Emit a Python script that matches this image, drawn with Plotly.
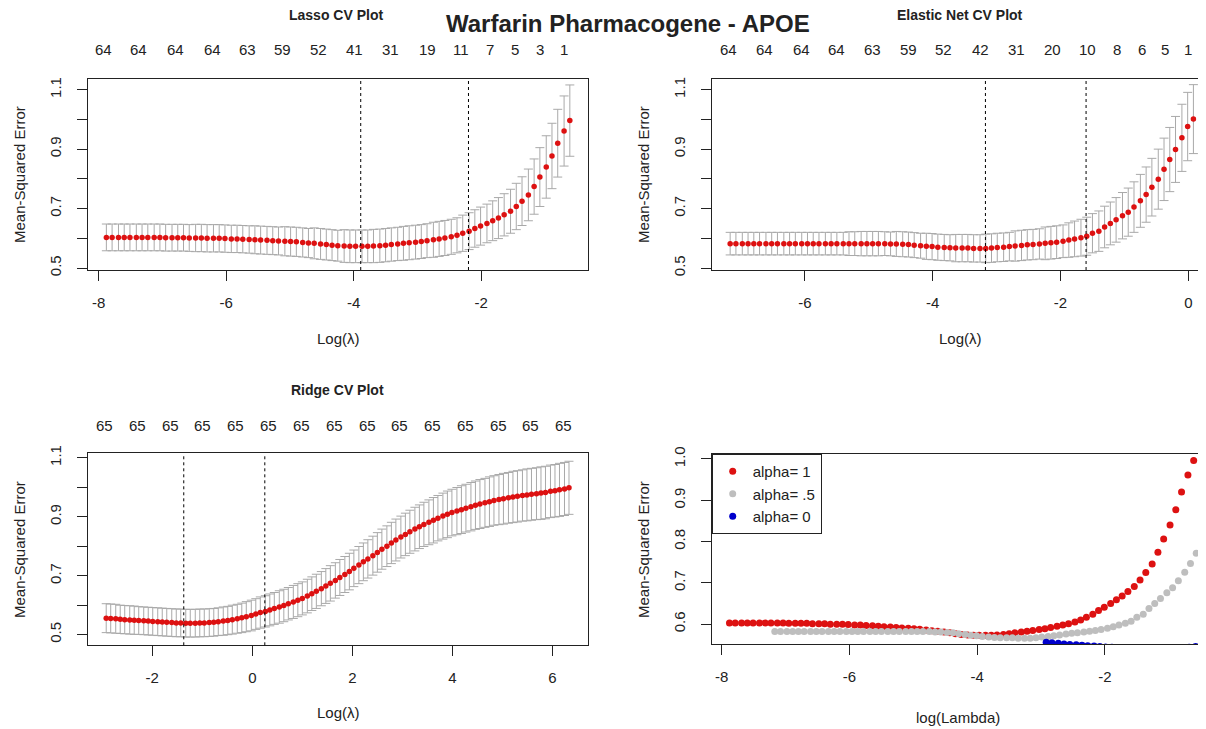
import plotly.graph_objects as go

# window is 1206x729; the page body has an 8px margin, so the figure is 8px smaller
PAGE_W, PAGE_H = 1206, 729
OFF = 8
W, H = PAGE_W - OFF, PAGE_H - OFF

# ---------------- data ----------------
lasso_loglam = [-7.88, -7.79, -7.69, -7.60, -7.51, -7.41, -7.32, -7.23, -7.13, -7.04,
                -6.95, -6.85, -6.76, -6.67, -6.58, -6.48, -6.39, -6.30, -6.20, -6.11,
                -6.02, -5.92, -5.83, -5.74, -5.64, -5.55, -5.46, -5.36, -5.27, -5.18,
                -5.08, -4.99, -4.90, -4.80, -4.71, -4.62, -4.52, -4.43, -4.34, -4.25,
                -4.15, -4.06, -3.97, -3.87, -3.78, -3.69, -3.59, -3.50, -3.41, -3.31,
                -3.22, -3.13, -3.03, -2.94, -2.85, -2.75, -2.66, -2.57, -2.47, -2.38,
                -2.29, -2.19, -2.10, -2.01, -1.91, -1.82, -1.73, -1.64, -1.54, -1.45,
                -1.36, -1.26, -1.17, -1.08, -0.98, -0.89, -0.80, -0.70, -0.61]
lasso_cvm = [0.603, 0.603, 0.603, 0.603, 0.603, 0.603, 0.603, 0.603, 0.603, 0.603,
             0.602, 0.602, 0.602, 0.602, 0.601, 0.601, 0.601, 0.600, 0.600, 0.600,
             0.599, 0.598, 0.598, 0.597, 0.596, 0.595, 0.594, 0.593, 0.592, 0.591,
             0.590, 0.589, 0.588, 0.586, 0.584, 0.583, 0.581, 0.579, 0.577, 0.575,
             0.574, 0.573, 0.573, 0.573, 0.573, 0.574, 0.575, 0.577, 0.579, 0.581,
             0.583, 0.585, 0.587, 0.589, 0.592, 0.595, 0.598, 0.601, 0.605, 0.610,
             0.617, 0.624, 0.633, 0.641, 0.650, 0.659, 0.668, 0.679, 0.691, 0.707,
             0.725, 0.746, 0.774, 0.806, 0.840, 0.877, 0.920, 0.961, 0.996]
lasso_cvsd = [0.045, 0.045, 0.045, 0.045, 0.045, 0.045, 0.045, 0.045, 0.045, 0.045,
              0.045, 0.045, 0.045, 0.045, 0.045, 0.046, 0.046, 0.046, 0.046, 0.046,
              0.046, 0.046, 0.046, 0.046, 0.046, 0.047, 0.047, 0.047, 0.047, 0.047,
              0.049, 0.049, 0.049, 0.049, 0.049, 0.052, 0.052, 0.052, 0.052, 0.052,
              0.055, 0.055, 0.055, 0.055, 0.055, 0.056, 0.056, 0.056, 0.056, 0.056,
              0.057, 0.057, 0.057, 0.057, 0.057, 0.059, 0.059, 0.059, 0.059, 0.059,
              0.061, 0.062, 0.063, 0.064, 0.065, 0.067, 0.069, 0.071, 0.074, 0.078,
              0.082, 0.087, 0.093, 0.099, 0.105, 0.110, 0.114, 0.118, 0.120]
lasso_vlines = [-3.89, -2.20]
lasso_count_pos = [-7.92, -7.37, -6.79, -6.22, -5.66, -5.11, -4.55, -3.98, -3.43, -2.85,
                   -2.32, -1.86, -1.47, -1.08, -0.70]
lasso_count_lab = ["64", "64", "64", "64", "63", "59", "52", "41", "31", "19",
                   "11", "7", "5", "3", "1"]

enet_loglam = [-7.17, -7.08, -6.98, -6.89, -6.80, -6.71, -6.61, -6.52, -6.43, -6.33,
               -6.24, -6.15, -6.05, -5.96, -5.87, -5.78, -5.68, -5.59, -5.50, -5.40,
               -5.31, -5.22, -5.12, -5.03, -4.94, -4.85, -4.75, -4.66, -4.57, -4.47,
               -4.38, -4.29, -4.19, -4.10, -4.01, -3.92, -3.82, -3.73, -3.64, -3.54,
               -3.45, -3.36, -3.26, -3.17, -3.08, -2.99, -2.89, -2.80, -2.71, -2.61,
               -2.52, -2.43, -2.33, -2.24, -2.15, -2.06, -1.96, -1.87, -1.78, -1.68,
               -1.59, -1.50, -1.40, -1.31, -1.22, -1.13, -1.03, -0.94, -0.85, -0.75,
               -0.66, -0.57, -0.47, -0.38, -0.29, -0.20, -0.10, -0.01, 0.08]
enet_cvm = [0.582, 0.582, 0.582, 0.582, 0.582, 0.582, 0.582, 0.582, 0.582, 0.582,
            0.582, 0.582, 0.582, 0.582, 0.582, 0.582, 0.582, 0.582, 0.582, 0.582,
            0.582, 0.582, 0.582, 0.582, 0.582, 0.582, 0.582, 0.581, 0.581, 0.580,
            0.579, 0.577, 0.575, 0.573, 0.572, 0.570, 0.569, 0.568, 0.567, 0.567,
            0.567, 0.566, 0.566, 0.566, 0.567, 0.569, 0.570, 0.572, 0.574, 0.576,
            0.578, 0.579, 0.581, 0.583, 0.585, 0.587, 0.590, 0.594, 0.598, 0.602,
            0.607, 0.617, 0.624, 0.638, 0.650, 0.662, 0.676, 0.688, 0.705, 0.726,
            0.747, 0.772, 0.799, 0.832, 0.865, 0.899, 0.938, 0.976, 1.001]
enet_cvsd = [0.038, 0.038, 0.038, 0.038, 0.038, 0.038, 0.038, 0.038, 0.038, 0.038,
             0.038, 0.038, 0.038, 0.038, 0.038, 0.038, 0.038, 0.038, 0.038, 0.038,
             0.040, 0.040, 0.041, 0.041, 0.041, 0.041, 0.040, 0.040, 0.042, 0.042,
             0.042, 0.042, 0.042, 0.044, 0.044, 0.044, 0.044, 0.044, 0.046, 0.046,
             0.046, 0.046, 0.046, 0.048, 0.048, 0.048, 0.048, 0.048, 0.051, 0.051,
             0.051, 0.051, 0.051, 0.055, 0.055, 0.055, 0.055, 0.058, 0.060, 0.062,
             0.064, 0.066, 0.068, 0.070, 0.072, 0.075, 0.078, 0.081, 0.085, 0.089,
             0.093, 0.097, 0.101, 0.105, 0.108, 0.111, 0.113, 0.115, 0.116]
enet_vlines = [-3.175, -1.60]
enet_count_pos = [-7.19, -6.64, -6.06, -5.51, -4.94, -4.38, -3.83, -3.25, -2.69, -2.12,
                  -1.58, -1.11, -0.72, -0.36, -0.01]
enet_count_lab = ["64", "64", "64", "64", "63", "59", "52", "42", "31", "20",
                  "10", "8", "6", "5", "1"]

ridge_loglam = [-2.92, -2.83, -2.73, -2.64, -2.55, -2.45, -2.36, -2.27, -2.17, -2.08,
                -1.99, -1.89, -1.80, -1.71, -1.61, -1.52, -1.43, -1.33, -1.24, -1.14,
                -1.05, -0.96, -0.86, -0.77, -0.68, -0.58, -0.49, -0.40, -0.30, -0.21,
                -0.12, -0.02, 0.07, 0.16, 0.26, 0.35, 0.44, 0.54, 0.63, 0.72,
                0.82, 0.91, 1.00, 1.10, 1.19, 1.28, 1.38, 1.47, 1.56, 1.66,
                1.75, 1.85, 1.94, 2.03, 2.13, 2.22, 2.31, 2.41, 2.50, 2.59,
                2.69, 2.78, 2.87, 2.97, 3.06, 3.15, 3.25, 3.34, 3.43, 3.53,
                3.62, 3.71, 3.81, 3.90, 3.99, 4.09, 4.18, 4.27, 4.37, 4.46,
                4.55, 4.65, 4.74, 4.83, 4.93, 5.02, 5.12, 5.21, 5.30, 5.40,
                5.49, 5.58, 5.68, 5.77, 5.86, 5.96, 6.05, 6.14, 6.24, 6.33]
ridge_cvm = [0.556, 0.555, 0.554, 0.552, 0.551, 0.550, 0.549, 0.548, 0.547, 0.546,
             0.545, 0.544, 0.543, 0.542, 0.541, 0.540, 0.540, 0.539, 0.539, 0.539,
             0.540, 0.540, 0.541, 0.542, 0.544, 0.546, 0.548, 0.551, 0.554, 0.557,
             0.561, 0.565, 0.570, 0.575, 0.579, 0.584, 0.589, 0.594, 0.599, 0.605,
             0.611, 0.617, 0.623, 0.631, 0.639, 0.647, 0.656, 0.665, 0.674, 0.684,
             0.694, 0.704, 0.714, 0.725, 0.736, 0.747, 0.757, 0.768, 0.779, 0.790,
             0.800, 0.811, 0.821, 0.831, 0.840, 0.849, 0.858, 0.866, 0.874, 0.881,
             0.888, 0.895, 0.902, 0.908, 0.914, 0.919, 0.924, 0.929, 0.934, 0.939,
             0.943, 0.947, 0.951, 0.955, 0.958, 0.961, 0.964, 0.967, 0.969, 0.972,
             0.974, 0.976, 0.978, 0.980, 0.982, 0.986, 0.988, 0.991, 0.994, 0.998]
ridge_cvsd = [0.049, 0.049, 0.049, 0.048, 0.048, 0.048, 0.048, 0.047, 0.047, 0.047,
              0.047, 0.047, 0.047, 0.047, 0.047, 0.047, 0.047, 0.047, 0.047, 0.047,
              0.047, 0.047, 0.047, 0.047, 0.047, 0.048, 0.048, 0.049, 0.049, 0.050,
              0.051, 0.052, 0.052, 0.053, 0.053, 0.054, 0.054, 0.055, 0.055, 0.055,
              0.056, 0.056, 0.056, 0.057, 0.057, 0.058, 0.058, 0.059, 0.060, 0.060,
              0.061, 0.061, 0.062, 0.062, 0.063, 0.064, 0.065, 0.066, 0.067, 0.068,
              0.069, 0.070, 0.071, 0.071, 0.072, 0.073, 0.074, 0.074, 0.075, 0.076,
              0.077, 0.077, 0.078, 0.079, 0.079, 0.080, 0.081, 0.081, 0.082, 0.082,
              0.083, 0.083, 0.084, 0.084, 0.085, 0.086, 0.086, 0.087, 0.087, 0.087,
              0.088, 0.088, 0.088, 0.089, 0.089, 0.089, 0.089, 0.090, 0.090, 0.090]
ridge_vlines = [-1.37, 0.25]
ridge_count_pos = [-2.95, -2.29, -1.64, -0.99, -0.33, 0.33, 0.98, 1.65, 2.30, 2.95,
                   3.60, 4.26, 4.92, 5.57, 6.22]
ridge_count_lab = ["65"] * 15

legend_names = ["alpha= 1", "alpha= .5", "alpha= 0"]

lasso_xticks = [-8, -6, -4, -2]
lasso_xticktext = ["-8", "-6", "-4", "-2"]
enet_xticks = [-6, -4, -2, 0]
enet_xticktext = ["-6", "-4", "-2", "0"]
ridge_xticks = [-2, 0, 2, 4, 6]
ridge_xticktext = ["-2", "0", "2", "4", "6"]
cmp_xticks = [-8, -6, -4, -2]
cmp_xticktext = ["-8", "-6", "-4", "-2"]
cv_yticks = [0.5, 0.6, 0.7, 0.8, 0.9, 1.0, 1.1]
cv_yticktext = ["0.5", "", "0.7", "", "0.9", "", "1.1"]
cmp_yticks = [0.6, 0.7, 0.8, 0.9, 1.0]
cmp_yticktext = ["0.6", "0.7", "0.8", "0.9", "1.0"]

# ---------------- styling ----------------
FONT = "Liberation Sans, Arial, sans-serif"
INK = "#222222"
RED = "#DD1111"
BARS = "#A9A9A9"


def fx(p):
    # page pixel x -> paper fraction
    return (p - OFF) / W


def fy(p):
    # page pixel y -> paper fraction
    return 1 - (p - OFF) / H


fig = go.Figure()

panels = [
    ("x", "y", lasso_loglam, lasso_cvm, lasso_cvsd, lasso_vlines, lasso_count_pos, lasso_count_lab, 50),
    ("x2", "y2", enet_loglam, enet_cvm, enet_cvsd, enet_vlines, enet_count_pos, enet_count_lab, 50),
    ("x3", "y3", ridge_loglam, ridge_cvm, ridge_cvsd, ridge_vlines, ridge_count_pos, ridge_count_lab, 425),
]

annotations = []
shapes = []

for xa, ya, xs, ms, sds, vls, cpos, clab, cy in panels:
    fig.add_trace(go.Scatter(
        x=xs, y=ms, mode="markers", xaxis=xa, yaxis=ya, showlegend=False,
        marker=dict(color=RED, size=5.5, line=dict(width=0)),
        error_y=dict(type="data", array=sds, visible=True, color=BARS,
                     thickness=1, width=4.5),
    ))
    for v in vls:
        shapes.append(dict(type="line", xref=xa, yref=ya + " domain", x0=v, x1=v, y0=0, y1=1,
                           line=dict(color="black", width=1, dash="dot")))
    for p, t in zip(cpos, clab):
        annotations.append(dict(x=p, y=fy(cy), xref=xa, yref="paper", text=t,
                                showarrow=False, xanchor="center", yanchor="middle",
                                font=dict(size=15, color=INK, family=FONT)))

# comparison panel
cmp_series = [(lasso_loglam, lasso_cvm, RED),
              (enet_loglam, enet_cvm, "#BEBEBE"),
              (ridge_loglam, ridge_cvm, "#0000CC")]
for (xs, ms, col), nm in zip(cmp_series, legend_names):
    fig.add_trace(go.Scatter(
        x=xs, y=ms, mode="markers", xaxis="x4", yaxis="y4", name=nm,
        marker=dict(color=col, size=7, line=dict(width=0)),
    ))


def note(x, y, text, size=15, angle=0, bold=False):
    return dict(x=fx(x), y=fy(y), xref="paper", yref="paper",
                text=f"<b>{text}</b>" if bold else text, textangle=angle,
                showarrow=False, xanchor="center", yanchor="middle",
                font=dict(size=size, color=INK, family=FONT))


annotations += [
    note(628, 24, "Warfarin Pharmacogene - APOE", size=24, bold=True),
    note(336, 15, "Lasso CV Plot", size=14, bold=True),
    note(960, 15, "Elastic Net CV Plot", size=14, bold=True),
    note(337, 390, "Ridge CV Plot", size=14, bold=True),
    note(338, 338, "Log(λ)"),
    note(960, 338, "Log(λ)"),
    note(338, 712, "Log(λ)"),
    note(958, 717, "log(Lambda)"),
    note(19, 175, "Mean-Squared Error", angle=-90),
    note(643, 175, "Mean-Squared Error", angle=-90),
    note(19, 550, "Mean-Squared Error", angle=-90),
    note(643, 550, "Mean-Squared Error", angle=-90),
]

tickfont = dict(size=15, color=INK, family=FONT)


def xaxis(domain, rng, tickvals, ticktext, anchor, mirror=True):
    return dict(domain=domain, range=rng, tickvals=tickvals, ticktext=ticktext, anchor=anchor,
                ticks="outside", ticklen=10, tickcolor=INK, tickwidth=1,
                showline=True, linecolor=INK, linewidth=1, mirror=mirror,
                showgrid=False, zeroline=False, tickfont=tickfont, tickangle=0,
                ticklabelstandoff=9, automargin=False)


def yaxis(domain, rng, tickvals, ticktext, anchor, mirror=True):
    return dict(domain=domain, range=rng, tickvals=tickvals, ticktext=ticktext,
                anchor=anchor, ticks="outside", ticklen=10, tickcolor=INK, tickwidth=1,
                showline=True, linecolor=INK, linewidth=1, mirror=mirror,
                showgrid=False, zeroline=False, tickfont=tickfont, tickangle=-90,
                ticklabelstandoff=10, automargin=False)


fig.update_layout(
    width=W, height=H,
    margin=dict(l=0, r=0, t=0, b=0, pad=0),
    paper_bgcolor="white", plot_bgcolor="white",
    font=dict(family=FONT, color=INK),
    xaxis=xaxis([fx(88), fx(588)], [-8.168, -0.325], lasso_xticks, lasso_xticktext, "y"),
    yaxis=yaxis([fy(270), fy(79)], [0.4933, 1.136], cv_yticks, cv_yticktext, "x"),
    xaxis2=xaxis([fx(711.7), 1.0], [-7.459, 0.277], enet_xticks, enet_xticktext, "y2"),
    yaxis2=yaxis([fy(270), fy(79)], [0.4933, 1.136], cv_yticks, cv_yticktext, "x2", mirror=False),
    xaxis3=xaxis([fx(88), fx(588)], [-3.284, 6.71], ridge_xticks, ridge_xticktext, "y3"),
    yaxis3=yaxis([fy(645.3), fy(453.3)], [0.464, 1.115], cv_yticks, cv_yticktext, "x3"),
    xaxis4=xaxis([fx(711.7), 1.0], [-8.158, -0.417], cmp_xticks, cmp_xticktext, "y4"),
    yaxis4=yaxis([fy(644.3), fy(454)], [0.5513, 1.012], cmp_yticks, cmp_yticktext, "x4", mirror=False),
    showlegend=True,
    legend=dict(x=fx(711.7), y=fy(454), xanchor="left", yanchor="top",
                bordercolor=INK, borderwidth=1, bgcolor="white",
                font=dict(size=15, color=INK, family=FONT),
                itemwidth=30, tracegroupgap=0),
    annotations=annotations,
    shapes=shapes,
)

fig.write_html("out.html")
